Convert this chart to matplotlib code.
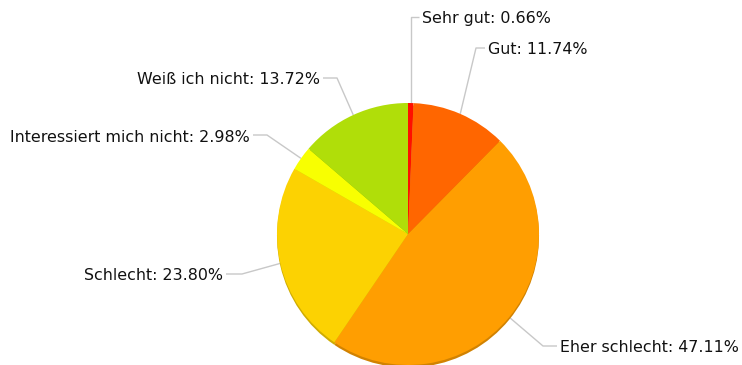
import numpy as np
import matplotlib.pyplot as plt
from matplotlib.colors import to_rgb

# Umfrageergebnis
labels = ["Sehr gut", "Gut", "Eher schlecht", "Schlecht",
          "Interessiert mich nicht", "Weiß ich nicht"]
shares = [0.66, 11.74, 47.11, 23.80, 2.98, 13.72]
colors = ["#FF0F00", "#FF6600", "#FF9E01", "#FCD202", "#F8FF01", "#B0DE09"]

# label text anchors (x, y, ha) and length of the horizontal leader stub
label_pos = [
    (422, 346, "left", 9),
    (488, 315, "left", 9),
    (560, 17, "left", 14),
    (223, 89, "right", 16),
    (250, 228, "right", 14),
    (320, 285, "right", 14),
]

W, H = 742, 365
cx, cy, r = 408, 131, 131

fig = plt.figure(figsize=(W / 100, H / 100), dpi=100)
ax = fig.add_axes([0, 0, 1, 1])

# darker copy underneath for the rim at the bottom
dark = [tuple(c * 0.82 for c in to_rgb(col)) for col in colors]
ax.pie(shares, colors=dark, startangle=90, counterclock=False,
       center=(cx, cy - 2.5), radius=r, frame=True,
       wedgeprops=dict(linewidth=0))
wedges, _ = ax.pie(shares, colors=colors, startangle=90, counterclock=False,
                   center=(cx, cy), radius=r, frame=True,
                   wedgeprops=dict(linewidth=0))
ax.set_xlim(0, W)
ax.set_ylim(0, H)
ax.set_aspect("equal")
ax.axis("off")

for w, lab, val, (tx, ty, ha, stub) in zip(wedges, labels, shares, label_pos):
    ang = np.deg2rad((w.theta1 + w.theta2) / 2)
    px, py = cx + r * np.cos(ang), cy + r * np.sin(ang)
    sign = 1 if ha == "left" else -1
    ex = tx - sign * 3
    bend_x = ex - sign * stub
    if lab == "Sehr gut":
        bend_x = px
    ly = ty + 2
    ax.plot([px, bend_x, ex], [py, ly, ly], color="#c8c8c8", lw=1,
            zorder=0, solid_capstyle="butt")
    ax.text(tx, ty, f"{lab}: {val:.2f}%", ha=ha, va="center",
            fontsize=11.4, color="#111111")

fig.savefig("out.png", dpi=100, facecolor="white")
